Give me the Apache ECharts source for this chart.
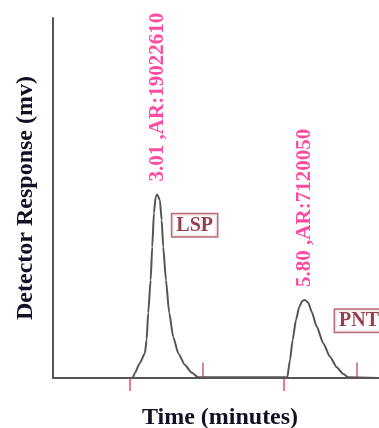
<!DOCTYPE html>
<html>
<head>
<meta charset="utf-8">
<script src="https://cdn.jsdelivr.net/npm/echarts@6/dist/echarts.min.js"></script>
<style>html,body{margin:0;padding:0;background:#fff;}#c{width:379px;height:428px;}</style>
</head>
<body>
<div id="c"></div>
<script>
// Chromatogram trace (time in minutes, response as % of full scale)
const traceTime = [1.04, 2.544, 2.588, 2.682, 2.777, 2.809, 2.839, 2.885, 2.915, 2.947, 2.979, 3.009, 3.060, 3.093, 3.123, 3.174, 3.236, 3.312, 3.406, 3.533, 3.660, 3.784,
  5.467, 5.518, 5.569, 5.631, 5.694, 5.751, 5.801, 5.864, 5.928, 6.023, 6.148, 6.274, 6.401, 6.526, 6.621, 7.2];
const traceResp = [0, 0, 1.4, 4.2, 6.9, 10.6, 18.1, 27.2, 36.4, 45.8, 50.3, 51.0, 49.4, 43.9, 36.4, 27.2, 18.1, 11.4, 6.9, 3.6, 1.5, 0.2,
  0.2, 5.0, 10.6, 16.1, 19.8, 21.4, 21.7, 20.9, 18.4, 14.3, 9.6, 5.9, 3.0, 1.1, 0.2, 0];
// Peak apex labels
const peakTime = [3.01, 5.80];
const peakResp = [51.0, 21.7];
const peakLabels = ['3.01 ,AR:19022610', '5.80 ,AR:7120050'];
// Integration markers (start below baseline, end above baseline)
const startMarks = [2.495, 5.405];
const endMarks = [3.874, 6.784];
// Compound name boxes
const nameTime = [3.294, 6.369];
const nameResp = [42.4, 15.9];
const nameLabels = ['LSP', 'PNT'];

const serif = "'Liberation Serif', 'DejaVu Serif', serif";
const chart = echarts.init(document.getElementById('c'));
chart.setOption({
  animation: false,
  backgroundColor: '#ffffff',
  grid: { left: 53, right: 0, top: 18, height: 360, containLabel: false, outerBoundsMode: 'none' },
  xAxis: {
    type: 'value', min: 1.04, max: 7.2,
    name: 'Time (minutes)', nameLocation: 'middle', nameGap: 28,
    nameTextStyle: { fontFamily: serif, fontWeight: 'bold', fontSize: 24, color: '#111126', padding: [0, 0, 0, 8] },
    axisLine: { show: true, lineStyle: { color: '#555', width: 2 } },
    axisTick: { show: false }, axisLabel: { show: false }, splitLine: { show: false }
  },
  yAxis: {
    type: 'value', min: 0, max: 100,
    name: 'Detector Response (mv)', nameLocation: 'middle', nameGap: 15, nameRotate: 90,
    nameTextStyle: { fontFamily: serif, fontWeight: 'bold', fontSize: 24, color: '#111126' },
    axisLine: { show: true, lineStyle: { color: '#555', width: 2 } },
    axisTick: { show: false }, axisLabel: { show: false }, splitLine: { show: false }
  },
  series: [
    {
      type: 'line', data: traceTime.map((t, i) => [t, traceResp[i]]),
      smooth: 0.2, smoothMonotone: 'x', symbol: 'none', lineStyle: { color: '#555', width: 2 }, z: 3
    },
    {
      type: 'scatter', data: startMarks.map(t => [t, 0]), clip: false,
      symbol: 'rect', symbolSize: [1.5, 13], symbolOffset: [0, 6.5],
      itemStyle: { color: '#d8204a' }, silent: true, z: 4
    },
    {
      type: 'scatter', data: endMarks.map(t => [t, 0]), clip: false,
      symbol: 'rect', symbolSize: [1.5, 15], symbolOffset: [0, -8],
      itemStyle: { color: '#b83a50' }, silent: true, z: 4
    },
    {
      type: 'scatter', data: peakTime.map((t, i) => [t, peakResp[i], peakLabels[i]]), clip: false,
      symbolSize: 0, silent: true,
      label: {
        show: true, position: 'top', distance: 13, rotate: 90, align: 'left', verticalAlign: 'middle',
        formatter: p => p.data[2],
        fontFamily: serif, fontWeight: 'bold', fontSize: 21, color: '#ff1f8a'
      }
    },
    {
      type: 'scatter', data: nameTime.map((t, i) => [t, nameResp[i], nameLabels[i]]), clip: false,
      symbolSize: 0, silent: true,
      label: {
        show: true, position: 'right', distance: 0,
        formatter: p => p.data[2],
        fontFamily: serif, fontWeight: 'bold', fontSize: 20, lineHeight: 20, color: '#7e0c22',
        borderColor: '#a84858', borderWidth: 1.5, padding: [1, 4], backgroundColor: '#fff'
      }
    }
  ]
});
</script>
</body>
</html>
